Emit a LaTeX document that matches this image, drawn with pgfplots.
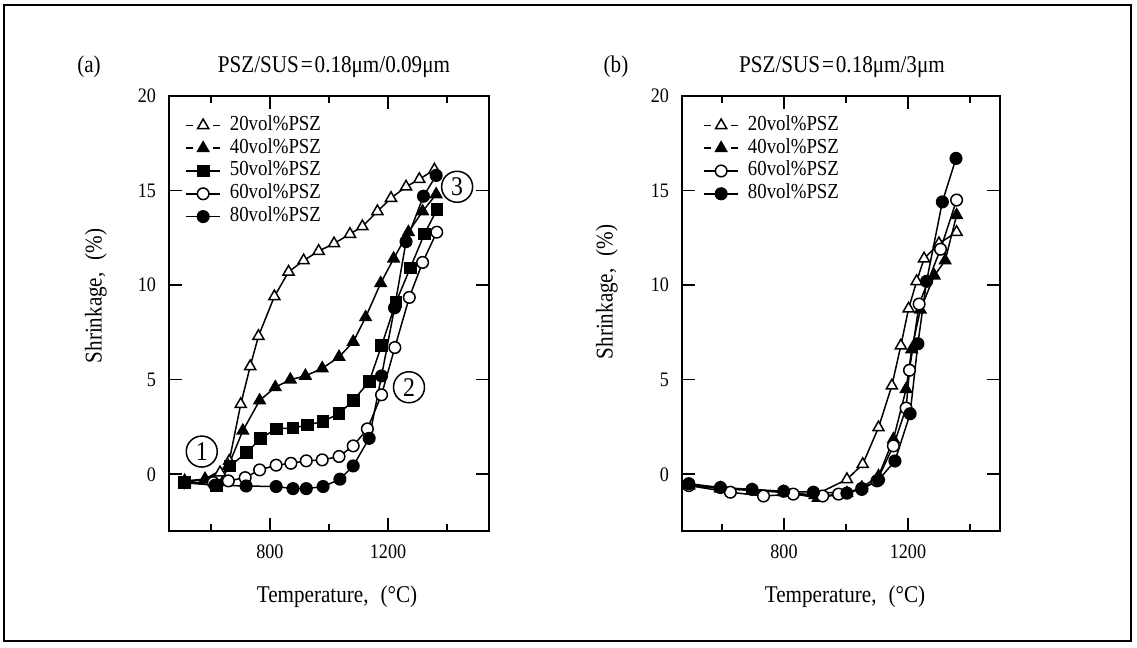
\documentclass[border=0pt]{standalone}
\usepackage{pgfplots}
\pgfplotsset{compat=1.18}
\usepackage{fontspec}
\setmainfont[FakeStretch=0.88]{Liberation Serif}
\newcommand{\lblfont}{\fontsize{12bp}{13bp}\selectfont}
\tikzset{circnum/.style={circle, draw, line width=0.75bp, minimum size=15.5bp, inner sep=0pt,
    font=\fontsize{13.5bp}{13.5bp}\selectfont}}
\begin{document}
\begin{tikzpicture}
\useasboundingbox (0,0) rectangle (568.5bp,324bp);
\draw[line width=0.8bp] (2bp,3.5bp) rectangle (565.5bp,321.5bp);
\pgfplotsset{
  myaxis/.style={
    scale only axis, width=160bp, height=217.5bp,
    anchor=south west,
    ymin=-3, ymax=20, ytick={0,5,10,15,20},
    xtick={800,1200}, xticklabels={800,1200}, minor xtick={600,1000,1400},
    tick align=inside, xtick pos=both, ytick pos=both,
    xticklabel pos=lower, yticklabel pos=left,
    major tick length=6.5bp, minor tick length=3.5bp,
    every tick/.style={black, line width=0.8bp},
    axis line style={line width=1.2bp},
    tick label style={font=\fontsize{10.3bp}{11bp}\selectfont},
    /pgf/number format/assume math mode=true,
    yticklabel style={xshift=-3bp},
    xticklabel style={yshift=-3.5bp},
    legend style={draw=none, fill=none, at={(0,1)}, anchor=north west,
      yshift=-9.5bp, inner sep=0pt, row sep=1.4bp, column sep=4.5bp,
      font=\fontsize{10.7bp}{11bp}\selectfont,
      nodes={inner sep=0pt, text height=7.5bp, text depth=2.5bp}},
    legend cell align=left,
    every axis plot/.append style={black, line width=0.75bp},
  },
  dashleg/.style={legend image code/.code={
    \draw[dash pattern=on 3.5bp off 10bp on 3.5bp, mark repeat=2, mark phase=2]
      plot coordinates {(0bp,0bp)(8.5bp,0bp)(17bp,0bp)};}},
  s20/.style={mark=triangle*, mark size=3.2bp, mark options={solid, fill=white}},
  s40/.style={mark=triangle*, mark size=3.2bp, mark options={solid, fill=black}},
  s50/.style={mark=square*, mark size=2.8bp, mark options={solid, fill=black}},
  s60/.style={mark=*, mark size=2.9bp, mark options={solid, fill=white}},
  s80/.style={mark=*, mark size=2.9bp, mark options={solid, fill=black}},
}
% ---------------- panel (a)
\begin{axis}[myaxis, at={(84.5bp,58.5bp)}, xmin=458, xmax=1542,
  legend style={xshift=8bp}]
\addplot[s20, dashleg] coordinates {(511,-0.35) (580,-0.26) (631,0.09) (662,0.7) (701,3.7) (733,5.7) (761,7.3) (815,9.4) (863,10.7) (914,11.3) (965,11.8) (1017,12.2) (1071,12.7) (1113,13.1) (1164,13.9) (1210,14.6) (1261,15.2) (1306,15.6) (1357,16.1)};
\addlegendentry{20vol\%PSZ}
\addplot[s40, dashleg] coordinates {(511,-0.44) (580,-0.26) (659,0.44) (708,2.3) (765,3.9) (818,4.6) (869,5.0) (920,5.2) (977,5.6) (1034,6.2) (1082,7.0) (1124,8.3) (1175,10.1) (1219,11.4) (1269,12.8) (1317,13.9) (1363,14.8)};
\addlegendentry{40vol\%PSZ}
\addplot[s50] coordinates {(511,-0.44) (619,-0.58) (665,0.44) (721,1.15) (769,1.9) (821,2.4) (878,2.45) (926,2.6) (980,2.8) (1034,3.2) (1082,3.9) (1136,4.9) (1178,6.8) (1227,9.1) (1275,10.9) (1323,12.7) (1366,14.0)};
\addlegendentry{50vol\%PSZ}
\addplot[s60] coordinates {(511,-0.44) (608,-0.44) (659,-0.35) (716,-0.18) (765,0.23) (821,0.48) (871,0.58) (923,0.71) (977,0.76) (1034,0.94) (1082,1.5) (1130,2.4) (1178,4.2) (1223,6.7) (1272,9.35) (1317,11.2) (1365,12.8)};
\addlegendentry{60vol\%PSZ}
\addplot[s80] coordinates {(511,-0.44) (614,-0.58) (719,-0.62) (821,-0.65) (878,-0.76) (923,-0.76) (980,-0.65) (1037,-0.26) (1082,0.44) (1136,1.9) (1178,5.2) (1222,8.8) (1261,12.3) (1320,14.7) (1363,15.8)};
\addlegendentry{80vol\%PSZ}
\node[circnum] at (axis cs:569,1.2) {1};
\node[circnum] at (axis cs:1271,4.6) {2};
\node[circnum] at (axis cs:1434,15.2) {3};
\end{axis}
% ---------------- panel (b)
\begin{axis}[myaxis, at={(341bp,58.5bp)}, width=159bp, xmin=471, xmax=1497,
  legend style={xshift=10.5bp}]
\addplot[s20, dashleg] coordinates {(493,-0.6) (595,-0.75) (697,-0.85) (799,-0.95) (900,-1.1) (1003,-0.27) (1054,0.53) (1105,2.47) (1148,4.68) (1177,6.8) (1202,8.75) (1228,10.2) (1252,11.4) (1300,12.2) (1357,12.8)};
\addlegendentry{20vol\%PSZ}
\addplot[s40, dashleg] coordinates {(493,-0.55) (595,-0.75) (697,-0.85) (799,-0.95) (910,-1.25) (1003,-1.0) (1051,-0.7) (1105,-0.1) (1153,1.85) (1194,4.5) (1212,6.6) (1240,8.7) (1285,10.5) (1320,11.3) (1357,13.7)};
\addlegendentry{40vol\%PSZ}
\addplot[s60] coordinates {(493,-0.6) (627,-0.95) (734,-1.15) (830,-1.05) (925,-1.15) (976,-1.05) (1051,-0.8) (1100,-0.35) (1153,1.5) (1194,3.5) (1205,5.5) (1236,9.0) (1305,11.9) (1357,14.5)};
\addlegendentry{60vol\%PSZ}
\addplot[s80] coordinates {(493,-0.5) (595,-0.7) (697,-0.8) (799,-0.9) (895,-0.95) (1003,-1.0) (1051,-0.75) (1105,-0.3) (1158,0.7) (1207,3.2) (1232,6.9) (1260,10.2) (1311,14.4) (1355,16.7)};
\addlegendentry{80vol\%PSZ}
\end{axis}
% ---------------- texts
\node[font=\lblfont] at (44.5bp,290.5bp) {(a)};
\node[font=\lblfont] at (167bp,290.5bp) {PSZ/SUS\kern0.08em=\kern0.08em0.18μm/0.09μm};
\node[font=\lblfont] at (308bp,290.5bp) {(b)};
\node[font=\lblfont] at (421bp,290.5bp) {PSZ/SUS\kern0.08em=\kern0.08em0.18μm/3μm};
\node[font=\lblfont, rotate=90] at (48bp,176bp) {Shrinkage,\enspace(\%)};
\node[font=\lblfont, rotate=90] at (303.5bp,178bp) {Shrinkage,\enspace(\%)};
\node[font=\lblfont] at (168.5bp,25.5bp) {Temperature,\enspace(°C)};
\node[font=\lblfont] at (422.5bp,25.5bp) {Temperature,\enspace(°C)};
\end{tikzpicture}
\end{document}
